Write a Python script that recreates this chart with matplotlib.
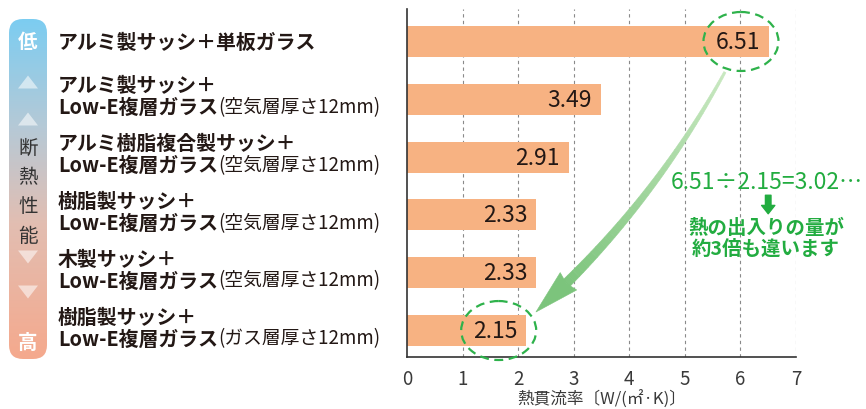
import numpy as np
import matplotlib
matplotlib.use("Agg")
import matplotlib.pyplot as plt
from matplotlib.patches import Ellipse, FancyBboxPatch, Polygon
from matplotlib import transforms
from matplotlib.colors import LinearSegmentedColormap, to_rgb

plt.rcParams['font.family'] = ['Noto Sans CJK JP', 'DejaVu Sans']

# ---------------- data ----------------
label_line1 = ["アルミ製サッシ＋単板ガラス", "アルミ製サッシ＋", "アルミ樹脂複合製サッシ＋",
               "樹脂製サッシ＋", "木製サッシ＋", "樹脂製サッシ＋"]
label_line2 = ["", "Low-E複層ガラス", "Low-E複層ガラス", "Low-E複層ガラス",
               "Low-E複層ガラス", "Low-E複層ガラス"]
label_note = ["", "(空気層厚さ12mm)", "(空気層厚さ12mm)", "(空気層厚さ12mm)",
              "(空気層厚さ12mm)", "(ガス層厚さ12mm)"]
values = [6.51, 3.49, 2.91, 2.33, 2.33, 2.15]
xticks = [0, 1, 2, 3, 4, 5, 6, 7]
xlabel = "熱貫流率〔W/(㎡·K)〕"
scale_top = "低"
scale_bottom = "高"
scale_middle = ["断", "熱", "性", "能"]
note_formula = "6.51÷2.15=3.02…"
note_lines = ["熱の出入りの量が", "約3倍も違います"]

W, H = 866, 410
BAR = '#f7b282'
TXT = '#231815'
GREEN = '#22ac40'

fig = plt.figure(figsize=(W / 100, H / 100), dpi=100)
ax = fig.add_axes([407 / W, (H - 358) / H, 389 / W, 348 / H])

y = np.arange(len(values))
ax.barh(y, values, height=0.536, color=BAR, zorder=2)
ax.set_xlim(0, 7)
ax.set_ylim(5.458, -0.562)
ax.set_xticks(xticks)
ax.set_yticks([])
for xv in xticks[1:]:
    ax.axvline(xv, color='#8a8a8a', lw=0.8, ls=(0, (3, 3)), zorder=1)
for s in ['top', 'right']:
    ax.spines[s].set_visible(False)
for s in ['left', 'bottom']:
    ax.spines[s].set_color('#333333')
    ax.spines[s].set_linewidth(1.2)
ax.tick_params(axis='x', length=0, pad=8, labelsize=13.5, labelcolor='#3a3a3a')
ax.set_xlabel(xlabel, fontsize=12, color='#3a3a3a', labelpad=0.5)

# value labels
for i, v in enumerate(values):
    ax.annotate(f"{v:.2f}", xy=(v, i), xytext=(-9, 0), textcoords='offset pixels',
                ha='right', va='center', fontsize=16.5, color=TXT, zorder=3)

# category labels
trans = transforms.blended_transform_factory(fig.transFigure, ax.transData)
x0 = 58 / W
for i in range(len(values)):
    if label_line2[i] == "":
        ax.text(x0, i, label_line1[i], transform=trans, fontsize=14.3, va='center',
                ha='left', color=TXT, fontweight='bold')
    else:
        ax.text(x0, i - 0.25, label_line1[i], transform=trans, fontsize=14.3, va='center',
                ha='left', color=TXT, fontweight='bold')
        t2 = ax.text(x0, i + 0.13, label_line2[i], transform=trans, fontsize=14.3, va='center',
                     ha='left', color=TXT, fontweight='bold')
        ax.annotate(label_note[i], xy=(1, 0), xycoords=t2, xytext=(0.3, 0.1),
                    textcoords='offset points', fontsize=13.5, va='bottom', ha='left', color=TXT)

# highlight ellipses on max and min
imax = int(np.argmax(values))
imin = int(np.argmin(values))
for idx in (imax, imin):
    ax.add_patch(Ellipse((values[idx] - 0.5, idx), 1.35, 1.02, fill=False,
                         edgecolor='#2eb24b', lw=1.6, ls=(0, (4, 2.5)), zorder=4, clip_on=False))

# curved arrow (display coords)
S = ax.transData.transform((values[imax] - 0.79, imax + 0.53))
T = ax.transData.transform((values[imin] + 0.17, imin - 0.32))
d = T - S
n = np.array([-d[1], d[0]]) / np.hypot(*d)
if n[0] < 0:
    n = -n
C = (S + T) / 2 + 26 * n
tt = np.linspace(0, 1, 400)[:, None]
B = (1 - tt) ** 2 * S + 2 * tt * (1 - tt) * C + tt ** 2 * T
seg = np.hypot(*np.diff(B, axis=0).T)
remain = np.concatenate([np.cumsum(seg[::-1])[::-1], [0]])
L_head = 42
k = int(np.argmax(remain <= L_head))
body = B[:k + 1]
tang = np.gradient(body, axis=0)
tang /= np.hypot(tang[:, 0], tang[:, 1])[:, None]
nrm = np.stack([-tang[:, 1], tang[:, 0]], axis=1)
wid = np.linspace(1.2, 4.8, len(body))[:, None]
left = body + nrm * wid
right = body - nrm * wid
c0 = np.array(to_rgb('#c8e8c0'))
c1 = np.array(to_rgb('#7cc47c'))
nseg = 40
idxs = np.linspace(0, len(body) - 1, nseg + 1).astype(int)
idt = transforms.IdentityTransform()
for j in range(nseg):
    a, b = idxs[j], idxs[j + 1]
    pts = np.vstack([left[a:b + 1], right[a:b + 1][::-1]])
    col = c0 + (c1 - c0) * (j / nseg)
    ax.add_patch(Polygon(pts, closed=True, facecolor=col, edgecolor=col, lw=0.4,
                         transform=idt, clip_on=False, zorder=5))
Eb = body[-1]
hdir = (T - Eb) / np.hypot(*(T - Eb))
hn = np.array([-hdir[1], hdir[0]])
head = np.array([Eb + hn * 12 - hdir * 3, T, Eb - hn * 12 - hdir * 3, Eb])
ax.add_patch(Polygon(head, closed=True, facecolor=c1, edgecolor=c1, lw=0.4,
                     transform=idt, clip_on=False, zorder=5))

# green note
ax.text(6.48, 2.43, note_formula, fontsize=16.5, color=GREEN, ha='center', va='center',
        zorder=6, clip_on=False)
ax.annotate('', xy=(6.50, 2.98), xytext=(6.50, 2.66),
            arrowprops=dict(arrowstyle='simple,head_length=0.6,head_width=0.95,tail_width=0.4',
                            color=GREEN, shrinkA=0, shrinkB=0, mutation_scale=10), zorder=6)
ax.text(6.46, 3.21, note_lines[0], fontsize=14, color=GREEN, ha='center', va='center',
        fontweight='bold', zorder=6)
ax.text(6.46, 3.57, note_lines[1], fontsize=14, color=GREEN, ha='center', va='center',
        fontweight='bold', zorder=6)

# left gradient scale
gax = fig.add_axes([9 / W, (H - 360) / H, 38 / W, 340 / H])
gax.set_xlim(0, 38)
gax.set_ylim(0, 340)
gax.axis('off')
cmap = LinearSegmentedColormap.from_list('g', [(0, '#f5a98d'), (0.4, '#e2beb2'),
                                               (0.68, '#b6c9d6'), (1, '#7ccdf1')])
grad = np.linspace(0, 1, 256).reshape(-1, 1)
im = gax.imshow(grad, extent=(0, 38, 0, 340), origin='lower', cmap=cmap, aspect='auto')
clip = FancyBboxPatch((0, 0), 38, 340, boxstyle='round,pad=0,rounding_size=14',
                      facecolor='none', edgecolor='none', transform=gax.transData)
gax.add_patch(clip)
im.set_clip_path(clip)
gax.set_xlim(0, 38)
gax.set_ylim(0, 340)
gax.text(19, 317, scale_top, color='white', fontsize=14, fontweight='bold', ha='center', va='center')
gax.text(19, 17, scale_bottom, color='white', fontsize=14, fontweight='bold', ha='center', va='center')
tw, th = 10, 6.5
for yy in (277, 240):
    gax.fill([19 - tw, 19 + tw, 19], [yy - th, yy - th, yy + th], color='white', alpha=0.55, lw=0)
for yy in (102, 67):
    gax.fill([19 - tw, 19 + tw, 19], [yy + th, yy + th, yy - th], color='white', alpha=0.55, lw=0)
for ch, yy in zip(scale_middle, (212, 182, 153, 123)):
    gax.text(19, yy, ch, color='#333333', fontsize=14, ha='center', va='center')
gax.set_xlim(0, 38)
gax.set_ylim(0, 340)

fig.savefig('out.png', dpi=100)
